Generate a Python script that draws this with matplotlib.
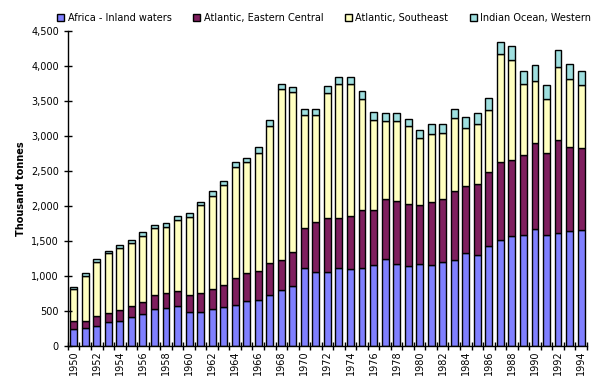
import matplotlib
matplotlib.use("Agg")
import matplotlib.pyplot as plt
from matplotlib.ticker import FuncFormatter, MultipleLocator
import numpy as np

years = list(range(1950, 1995))

africa = [250, 255, 285, 340, 355, 420, 465, 525, 545, 575, 485, 485, 525, 565, 585,
          640, 655, 730, 800, 860, 1110, 1060, 1060, 1120, 1095, 1120, 1155, 1245, 1180, 1150,
          1180, 1155, 1195, 1230, 1330, 1300, 1430, 1515, 1570, 1585, 1680, 1585, 1620, 1650, 1655]
atl_ec = [105, 105, 145, 135, 160, 155, 170, 200, 215, 215, 245, 275, 290, 310, 385,
          405, 420, 460, 430, 485, 575, 715, 770, 715, 760, 820, 795, 855, 890, 885,
          835, 905, 905, 990, 965, 1020, 1055, 1115, 1085, 1150, 1220, 1175, 1325, 1200, 1180]
atl_se = [460, 645, 775, 855, 890, 900, 940, 960, 945, 1015, 1115, 1255, 1330, 1430, 1590,
          1585, 1685, 1960, 2440, 2285, 1620, 1530, 1790, 1915, 1895, 1585, 1275, 1120, 1145, 1110,
          960, 975, 940, 1035, 815, 850, 890, 1545, 1430, 1010, 890, 770, 1050, 965, 890]
indian_w = [25, 35, 40, 35, 40, 40, 55, 50, 50, 50, 50, 50, 65, 50, 65,
            65, 85, 85, 70, 70, 90, 90, 95, 90, 95, 115, 125, 115, 120, 95,
            120, 145, 130, 140, 165, 165, 175, 175, 210, 185, 220, 205, 235, 215, 205]

names = ["Africa - Inland waters", "Atlantic, Eastern Central",
         "Atlantic, Southeast", "Indian Ocean, Western"]
colors = ["#8080FF", "#7F1F5F", "#FFFFC0", "#9FDFDF"]

fig = plt.figure(figsize=(5.91, 3.85), dpi=100)
ax = fig.add_axes([0.115, 0.101, 0.878, 0.818])

x = np.arange(len(years))
bottom = np.zeros(len(years))
for vals, name, col in zip([africa, atl_ec, atl_se, indian_w], names, colors):
    ax.bar(x, vals, 0.6, bottom=bottom, color=col, edgecolor="black",
           linewidth=1.0, label=name)
    bottom += np.array(vals)

ax.set_xlim(-0.5, len(years) - 0.5)
ax.set_ylim(0, 4500)
ax.yaxis.set_major_locator(MultipleLocator(500))
ax.yaxis.set_major_formatter(FuncFormatter(lambda v, p: f"{int(v):,}"))

ax.set_xticks(x[::2])
ax.set_xticklabels([str(y) for y in years[::2]], rotation=90)
ax.set_xticks(np.arange(-0.5, len(years)), minor=True)
ax.tick_params(axis="x", which="major", length=0, labelsize=7, pad=3)
ax.tick_params(axis="x", which="minor", direction="inout", length=6, width=1)
ax.tick_params(axis="y", direction="inout", length=6, width=1, labelsize=7)

for s in ["top", "right"]:
    ax.spines[s].set_visible(False)
ax.spines["left"].set_linewidth(1)
ax.spines["bottom"].set_linewidth(1)

ax.set_ylabel("Thousand tonnes", fontsize=7, fontweight="bold")

fig.legend(loc="upper left", bbox_to_anchor=(0.085, 0.985), ncol=4, frameon=False,
           fontsize=7, handlelength=0.7, handleheight=0.7, columnspacing=2.2,
           handletextpad=0.4, borderaxespad=0.3)

fig.savefig("out.png", dpi=100)
